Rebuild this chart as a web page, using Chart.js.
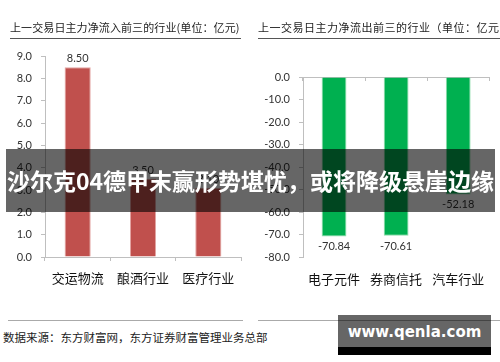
<!DOCTYPE html>
<html>
<head>
<meta charset="utf-8">
<script src="https://cdn.jsdelivr.net/npm/chart.js@4"></script>
<style>
body{margin:0;width:500px;height:362px;position:relative;background:#fff;overflow:hidden;font-family:"Noto Sans CJK SC",sans-serif;color:#222}
canvas{position:absolute;top:0}
.title{position:absolute;top:19px;font-size:11px;line-height:16px;white-space:nowrap}
.rule{position:absolute;height:0}
#banner{position:absolute;left:6px;top:149px;width:489px;height:63px;background:rgba(0,0,0,0.6);color:#fff;font-weight:bold;font-size:23px;line-height:63px;text-align:center;white-space:nowrap}
#source{position:absolute;left:3px;top:329px;font-size:11.5px;line-height:17px;white-space:nowrap}
#mark{position:absolute;left:338px;top:315px;width:153px;height:30px;background:rgba(0,0,0,0.6);border-bottom:8px solid #000;color:#fff;font:bold 15px "DejaVu Sans",sans-serif;text-align:center;line-height:30px;padding-top:2px;box-sizing:content-box}
</style>
</head>
<body>
<canvas id="inChart" width="250" height="300" style="left:0"></canvas>
<canvas id="outChart" width="250" height="300" style="left:250px"></canvas>

<div class="title" style="left:10px;letter-spacing:0.1px">上一交易日主力净流入前三的行业(单位：亿元)</div>
<div class="title" style="left:258px;letter-spacing:0.5px">上一交易日主力净流出前三的行业（单位：亿元）</div>
<div class="rule" style="left:10px;top:38px;width:231px;border-top:1.5px solid #555"></div>
<div class="rule" style="left:258px;top:38px;width:242px;border-top:1.5px solid #555"></div>
<div class="rule" style="left:8px;top:320px;width:235px;border-top:1.5px solid #aaa"></div>
<div class="rule" style="left:258px;top:320px;width:242px;border-top:1.5px solid #aaa"></div>
<div id="source">数据来源：东方财富网，东方证券财富管理业务总部</div>
<div id="banner">沙尔克04德甲末赢形势堪忧，或将降级悬崖边缘</div>
<div id="mark">www.qenla.com</div>

<script>
// inflow top 3
const inCategories = ['交运物流', '酿酒行业', '医疗行业'];
const inValues = [8.50, 3.50, 3.10];
const inMin = 0, inMax = 9, inStep = 1;

// outflow top 3
const outCategories = ['电子元件', '券商信托', '汽车行业'];
const outValues = [-70.84, -70.61, -52.18];
const outMin = -80, outMax = 0, outStep = 10;

const axisGray = '#bfbfbf';
const tickFont = { family: 'Lato', size: 11 };
const catFont = { family: 'Noto Sans CJK SC', size: 13 };

// numbers above / below the bars
const valueLabels = {
  id: 'valueLabels',
  afterDatasetsDraw(chart) {
    const ctx = chart.ctx;
    const vals = chart.data.datasets[0].data;
    chart.getDatasetMeta(0).data.forEach((bar, i) => {
      const v = vals[i];
      ctx.save();
      ctx.font = '11px Lato';
      ctx.fillStyle = '#333';
      ctx.textAlign = 'center';
      if (v >= 0) {
        ctx.textBaseline = 'bottom';
        ctx.fillText(v.toFixed(2), bar.x, bar.y - 3);
      } else {
        ctx.textBaseline = 'top';
        ctx.fillText(v.toFixed(2), bar.x, bar.y + 5);
      }
      ctx.restore();
    });
  }
};

new Chart(document.getElementById('inChart'), {
  type: 'bar',
  data: {
    labels: inCategories,
    datasets: [{ data: inValues, backgroundColor: '#c0504d', borderColor: '#e3a5a3', borderWidth: 1, barPercentage: 0.4, categoryPercentage: 1 }]
  },
  options: {
    responsive: false, animation: false,
    layout: { padding: { top: 56, left: 0, right: 9, bottom: 0 } },
    plugins: { legend: { display: false }, tooltip: { enabled: false } },
    scales: {
      x: {
        offset: true,
        grid: { offset: true, drawOnChartArea: false, tickLength: 4, color: axisGray },
        border: { color: axisGray },
        ticks: { font: catFont, color: '#111', padding: 9, maxRotation: 0 },
        afterFit: s => { s.height = 43; }
      },
      y: {
        min: inMin, max: inMax,
        grid: { drawOnChartArea: false, tickLength: 4, color: axisGray },
        border: { color: axisGray },
        ticks: { stepSize: inStep, font: tickFont, color: '#333', padding: 9, callback: v => v.toFixed(1) },
        afterFit: s => { s.width = 45; }
      }
    }
  },
  plugins: [valueLabels]
});

new Chart(document.getElementById('outChart'), {
  type: 'bar',
  data: {
    labels: outCategories,
    datasets: [{ data: outValues, backgroundColor: '#00b050', borderColor: '#8fdcab', borderWidth: 1, barPercentage: 0.4, categoryPercentage: 1 }]
  },
  options: {
    responsive: false, animation: false,
    layout: { padding: { top: 77, left: 0, right: 3, bottom: 0 } },
    plugins: { legend: { display: false }, tooltip: { enabled: false } },
    scales: {
      x: {
        offset: true,
        grid: { display: false, drawTicks: false },
        border: { display: false },
        ticks: { font: catFont, color: '#111', padding: 14, maxRotation: 0 },
        afterFit: s => { s.height = 43; }
      },
      // zero line with short category ticks pointing into the plot
      x2: {
        position: 'top', type: 'category', offset: true,
        grid: { offset: true, drawOnChartArea: false, tickLength: -4, color: axisGray },
        border: { color: axisGray },
        ticks: { display: false },
        afterFit: s => { s.height = 0; }
      },
      y: {
        min: outMin, max: outMax,
        grid: { drawOnChartArea: false, tickLength: 4, color: axisGray },
        border: { color: axisGray },
        ticks: { stepSize: outStep, font: tickFont, color: '#333', padding: 9, callback: v => v.toFixed(1) },
        afterFit: s => { s.width = 53; }
      }
    }
  },
  plugins: [valueLabels]
});
</script>
</body>
</html>
